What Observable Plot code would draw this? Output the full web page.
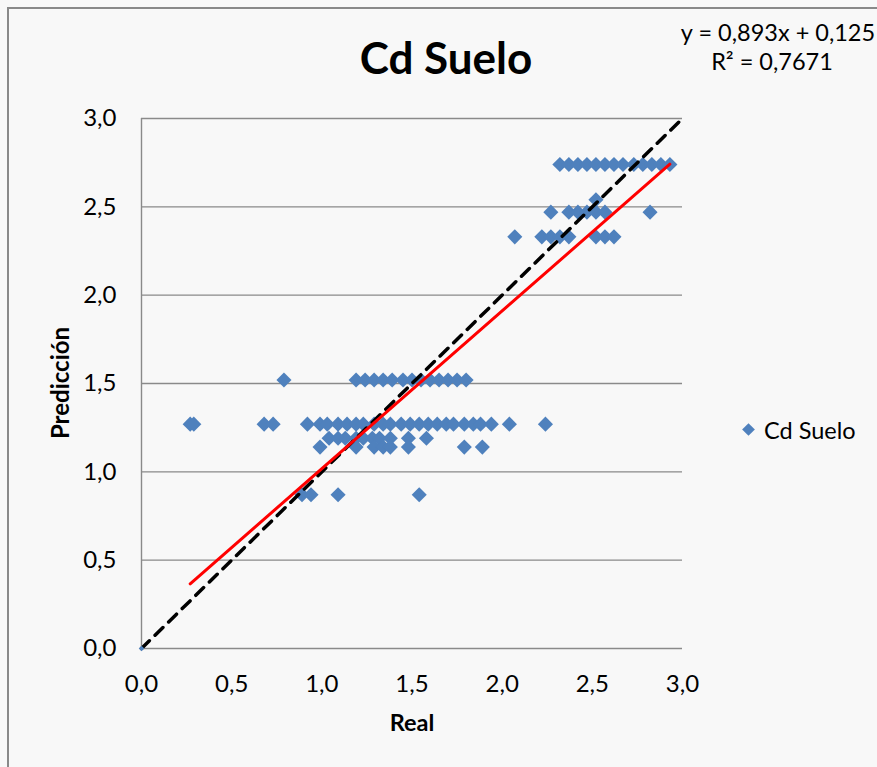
<!DOCTYPE html>
<html><head><meta charset="utf-8">
<script src="https://cdn.jsdelivr.net/npm/d3@7"></script>
<script src="https://cdn.jsdelivr.net/npm/@observablehq/plot@0.6"></script>
<style>
html,body{margin:0;padding:0;background:#f8f8f8;overflow:hidden;}
#wrap{position:relative;width:877px;height:767px;font-family:Lato,"Open Sans",sans-serif;color:#000;}
#frame{position:absolute;left:7px;top:7px;width:900px;height:800px;border:2px solid #898989;box-sizing:border-box;}
.t{position:absolute;white-space:nowrap;}
</style></head>
<body><div id="wrap"><div id="frame"></div></div>
<script>
const title = "Cd Suelo";
const xLabel = "Real";
const yLabel = "Predicción";
const seriesName = "Cd Suelo";
const eqSlope = 0.893, eqIntercept = 0.125;
const eqLine1 = "y = 0,893x + 0,125";
const eqLine2 = "R² = 0,7671";
const ticks = [0, 0.5, 1.0, 1.5, 2.0, 2.5, 3.0];

const realVals = [
  0.79, 1.19,1.24,1.29,1.34,1.39,1.45,1.50,1.55,1.60,1.65,1.70,1.75,1.80,
  0.27,0.29,0.68,0.73,0.92,0.99,1.03,1.09,1.14,1.19,1.23,1.29,1.34,1.38,1.44,1.49,1.54,1.59,1.64,1.69,1.73,1.79,1.84,1.88,1.94,2.04,2.24,
  1.04,1.09,1.13,1.19,1.23,1.28,1.32,1.38,1.48,1.58,
  0.99,1.19,1.29,1.34,1.38,1.48,1.79,1.89,
  0.89,0.94,1.09,1.54,
  2.32,2.37,2.42,2.47,2.52,2.57,2.62,2.67,2.73,2.78,2.83,2.88,2.93,
  2.52,
  2.27,2.37,2.42,2.47,2.52,2.57,2.82,
  2.07,2.22,2.27,2.32,2.37,2.52,2.57,2.62
];
const predVals = [
  1.52, 1.52,1.52,1.52,1.52,1.52,1.52,1.52,1.52,1.52,1.52,1.52,1.52,1.52,
  1.27,1.27,1.27,1.27,1.27,1.27,1.27,1.27,1.27,1.27,1.27,1.27,1.27,1.27,1.27,1.27,1.27,1.27,1.27,1.27,1.27,1.27,1.27,1.27,1.27,1.27,1.27,
  1.19,1.19,1.19,1.19,1.19,1.19,1.19,1.19,1.19,1.19,
  1.14,1.14,1.14,1.14,1.14,1.14,1.14,1.14,
  0.87,0.87,0.87,0.87,
  2.74,2.74,2.74,2.74,2.74,2.74,2.74,2.74,2.74,2.74,2.74,2.74,2.74,
  2.54,
  2.47,2.47,2.47,2.47,2.47,2.47,2.47,
  2.33,2.33,2.33,2.33,2.33,2.33,2.33,2.33
];
const oneToOneX = [0, 3];
const oneToOneY = [0, 3];

const pts = realVals.map((r, i) => ({real: r, pred: predVals[i]}));
const xMin = d3.min(realVals), xMax = d3.max(realVals);
const trend = [xMin, xMax].map(x => ({x, y: eqSlope * x + eqIntercept}));
const diag = oneToOneX.map((x, i) => ({x, y: oneToOneY[i]}));
const fmt = d => d3.format(".1f")(d).replace(".", ",");

const W = 877, H = 767;
const chart = Plot.plot({
  width: W, height: H,
  marginLeft: 141, marginRight: 195, marginTop: 118, marginBottom: 119,
  style: {fontFamily: "Lato, 'Open Sans', sans-serif", fontSize: "24px", background: "transparent", color: "#000", overflow: "visible"},
  x: {domain: [0, 3], ticks: ticks, tickFormat: fmt, tickSize: 0, tickPadding: 26, label: null},
  y: {domain: [0, 3], ticks: ticks, tickFormat: fmt, tickSize: 0, tickPadding: 25, label: null},
  marks: [
    Plot.ruleY(ticks, {stroke: "#8a8a8a", strokeWidth: 1.4}),
    Plot.ruleX([0], {stroke: "#8a8a8a", strokeWidth: 1.4}),
    Plot.dot(pts, {x: "real", y: "pred", symbol: "diamond2", r: 6.8, fill: "#4f81bd", stroke: "none"}),
    Plot.line(diag, {x: "x", y: "y", stroke: "#000", strokeWidth: 3.5, strokeDasharray: "11,8", strokeLinecap: "round"}),
    Plot.dot(diag.slice(0, 1), {x: "x", y: "y", symbol: "diamond2", r: 2.5, fill: "#4f81bd"}),
    Plot.line(trend, {x: "x", y: "y", stroke: "#ff0000", strokeWidth: 3})
  ]
});
const wrap = document.getElementById("wrap");
chart.style.position = "absolute"; chart.style.left = "0"; chart.style.top = "0";
wrap.appendChild(chart);

function addText(txt, css) {
  const d = document.createElement("div");
  d.className = "t"; d.textContent = txt;
  Object.assign(d.style, css);
  wrap.appendChild(d);
  return d;
}
addText(title, {left: "446px", top: "57px", transform: "translate(-50%,-50%)", fontSize: "44px", fontWeight: "bold"});
addText(eqLine1, {left: "778px", top: "32px", transform: "translate(-50%,-50%)", fontSize: "23.5px"});
addText(eqLine2, {left: "772px", top: "61px", transform: "translate(-50%,-50%)", fontSize: "23.5px"});
addText(xLabel, {left: "412px", top: "722px", transform: "translate(-50%,-50%)", fontSize: "23.5px", fontWeight: "bold"});
addText(yLabel, {left: "59px", top: "383px", transform: "translate(-50%,-50%) rotate(-90deg)", fontSize: "24px", fontWeight: "bold"});
// legend
const sw = document.createElement("div");
Object.assign(sw.style, {position: "absolute", left: "744px", top: "425px", width: "9px", height: "9px", background: "#4f81bd", transform: "rotate(45deg)"});
wrap.appendChild(sw);
addText(seriesName, {left: "764px", top: "430px", transform: "translateY(-50%)", fontSize: "23.5px"});
</script></body></html>
